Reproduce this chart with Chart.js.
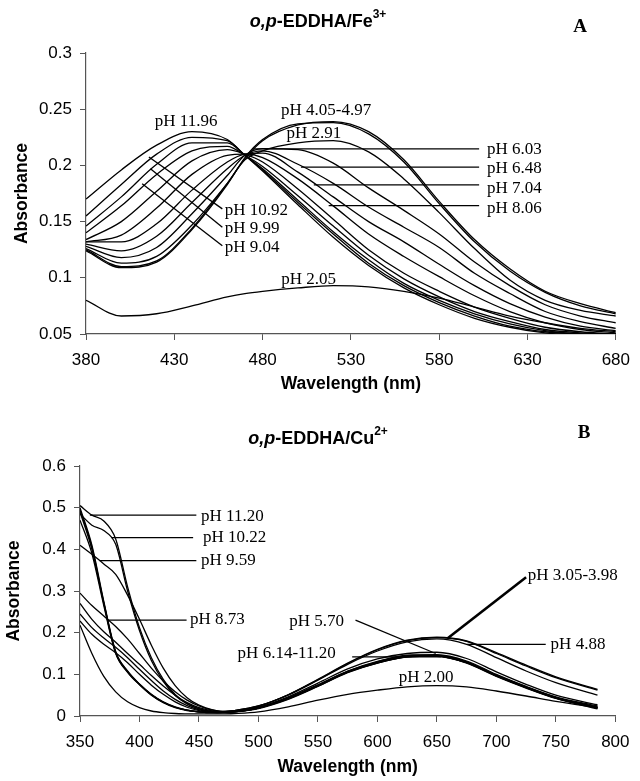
<!DOCTYPE html>
<html>
<head>
<meta charset="utf-8">
<script src="https://cdn.jsdelivr.net/npm/chart.js@4.4.1/dist/chart.umd.min.js"></script>
<style>
  html, body { margin: 0; padding: 0; background: #fff; }
  #wrap { position: relative; width: 640px; height: 781px; }
  #feChart { position: absolute; left: 0; top: 0; }
  #cuChart { position: absolute; left: 0; top: 395px; }
</style>
</head>
<body>
<div id="wrap">
  <canvas id="feChart" width="640" height="395" style="width:640px;height:395px"></canvas>
  <canvas id="cuChart" width="640" height="386" style="width:640px;height:386px"></canvas>
</div>
<script>
// ---- Panel A: o,p-EDDHA/Fe3+ ----
const feWavelength = [380, 400, 420, 440, 460, 470, 480, 500, 520, 540, 560, 580, 600, 620, 640, 660, 680];
const fe_pH11_96 = [.170, .196, .218, .230, .223, .209, .195, .165, .136, .111, .091, .076, .064, .056, .051, .049, .048];
const fe_pH10_92 = [.155, .183, .210, .225, .222, .209, .196, .167, .139, .113, .093, .078, .066, .057, .052, .050, .049];
const fe_pH9_99  = [.146, .172, .201, .220, .220, .209, .197, .169, .141, .116, .095, .080, .068, .059, .053, .050, .049];
const fe_pH9_04  = [.140, .164, .192, .213, .217, .209, .199, .173, .146, .120, .099, .083, .070, .061, .054, .051, .050];
const fe_pH8_5   = [.134, .150, .177, .204, .214, .210, .203, .179, .152, .125, .104, .088, .074, .064, .056, .052, .050];
const fe_pH8_06  = [.132, .138, .162, .192, .209, .210, .207, .188, .164, .139, .119, .101, .084, .070, .060, .054, .051];
const fe_pH7_04  = [.132, .132, .148, .178, .203, .210, .211, .194, .172, .150, .132, .112, .093, .077, .065, .057, .053];
const fe_pH6_48  = [.130, .124, .137, .167, .197, .209, .213, .201, .184, .163, .145, .127, .104, .086, .070, .061, .055];
const fe_pH6_03  = [.128, .118, .127, .157, .191, .209, .215, .214, .202, .180, .160, .139, .114, .093, .076, .066, .060];
const fe_pH2_91  = [.126, .113, .119, .147, .184, .205, .213, .220, .222, .212, .188, .158, .126, .098, .080, .071, .066];
const fe_pH4_05  = [.125, .110, .115, .144, .184, .206, .222, .236, .239, .230, .205, .168, .134, .108, .088, .077, .069];
const fe_pH4_97  = [.124, .109, .114, .143, .183, .207, .223, .237, .238, .228, .203, .166, .132, .106, .087, .075, .068];
const fe_pH2_05  = [.080, .066, .068, .075, .083, .086, .088, .091, .093, .092, .088, .082, .074, .066, .060, .055, .052];
const feCurves = [fe_pH11_96, fe_pH10_92, fe_pH9_99, fe_pH9_04, fe_pH8_5, fe_pH8_06, fe_pH7_04,
                  fe_pH6_48, fe_pH6_03, fe_pH2_91, fe_pH4_05, fe_pH4_97, fe_pH2_05];
const feXTicks = [380, 680, 50];
const feYTicks = [0.05, 0.3, 0.05];
// labels: text, wavelength, absorbance, alignment
const feNotes = [
  ['pH 11.96', 436.7, 0.2387, 'center'],
  ['pH 10.92', 458.5, 0.1600, 'left'],
  ['pH 9.99', 458.5, 0.1440, 'left'],
  ['pH 9.04', 458.5, 0.1270, 'left'],
  ['pH 4.05-4.97', 516, 0.2490, 'center'],
  ['pH 2.91', 509, 0.2280, 'center'],
  ['pH 6.03', 607, 0.2140, 'left'],
  ['pH 6.48', 607, 0.1970, 'left'],
  ['pH 7.04', 607, 0.1795, 'left'],
  ['pH 8.06', 607, 0.1615, 'left'],
  ['pH 2.05', 506, 0.0988, 'center']
];
const feLeaders = [
  [415.6, 0.2074, 457.2, 0.1613],
  [416.5, 0.1970, 457.2, 0.1449],
  [411.8, 0.1837, 457.2, 0.1286],
  [474.8, 0.2147, 602.6, 0.2147],
  [501.7, 0.1985, 602.6, 0.1985],
  [509.0, 0.1827, 602.6, 0.1827],
  [517.4, 0.1643, 602.6, 0.1643]
];

// ---- Panel B: o,p-EDDHA/Cu2+ ----
const cuWavelength = [350, 360, 370, 380, 390, 400, 410, 420, 430, 440, 450, 460, 470, 480, 500, 525, 550, 575, 600, 625, 650, 675, 700, 725, 750, 785];
const cu_pH11_20 = [.505, .482, .468, .425, .310, .212, .140, .088, .052, .030, .018, .011, .009, .010, .018, .040, .071, .104, .127, .142, .145, .130, .098, .070, .045, .022];
const cu_pH10_22 = [.485, .458, .445, .412, .300, .205, .133, .083, .049, .029, .017, .011, .009, .010, .019, .041, .072, .105, .128, .142, .144, .128, .096, .068, .043, .019];
const cu_pH9_59  = [.410, .388, .365, .340, .290, .232, .170, .115, .073, .044, .026, .016, .011, .011, .019, .042, .073, .106, .129, .143, .143, .127, .095, .067, .042, .017];
const cu_pH8_73  = [.295, .265, .240, .215, .185, .150, .115, .084, .058, .038, .024, .015, .011, .012, .020, .043, .074, .107, .130, .145, .146, .130, .097, .069, .044, .019];
const cu_pH7_5   = [.270, .232, .202, .177, .150, .124, .097, .072, .050, .032, .020, .013, .010, .012, .020, .044, .075, .108, .131, .146, .147, .132, .100, .071, .046, .024];
const cu_pH6_9   = [.245, .212, .187, .165, .140, .112, .085, .060, .040, .025, .015, .010, .008, .010, .019, .042, .073, .106, .128, .143, .145, .129, .097, .069, .044, .021];
const cu_pH6_14  = [.228, .196, .172, .152, .128, .100, .074, .052, .034, .021, .013, .009, .008, .010, .019, .042, .072, .105, .127, .142, .144, .128, .096, .068, .043, .020];
const cu_pH5_70  = [.470, .390, .265, .150, .105, .075, .050, .032, .020, .013, .010, .008, .009, .011, .021, .046, .079, .113, .137, .150, .153, .138, .106, .076, .050, .027];
const cu_pH4_88  = [.490, .400, .270, .152, .106, .076, .051, .033, .021, .014, .010, .008, .009, .012, .023, .050, .086, .124, .156, .178, .185, .172, .140, .108, .080, .050];
const cu_pH3_05  = [.500, .410, .275, .155, .108, .077, .052, .034, .022, .014, .010, .009, .010, .013, .024, .051, .088, .127, .160, .182, .189, .180, .152, .122, .094, .064];
const cu_pH3_98  = [.495, .405, .272, .153, .107, .076, .051, .033, .021, .014, .010, .009, .010, .013, .024, .051, .087, .126, .159, .181, .188, .179, .150, .120, .092, .062];
const cu_pH2_00  = [.218, .150, .095, .058, .034, .020, .012, .008, .006, .005, .005, .005, .005, .006, .010, .022, .038, .052, .062, .070, .073, .070, .060, .048, .035, .020];
const cuCurves = [cu_pH11_20, cu_pH10_22, cu_pH9_59, cu_pH8_73, cu_pH7_5, cu_pH6_9, cu_pH6_14,
                  cu_pH5_70, cu_pH4_88, cu_pH3_05, cu_pH3_98, cu_pH2_00];
const cuXTicks = [350, 800, 50];
const cuYTicks = [0, 0.6, 0.1];
const cuNotes = [
  ['pH 11.20', 451.7, 0.478, 'left'],
  ['pH 10.22', 453.4, 0.428, 'left'],
  ['pH 9.59', 451.7, 0.372, 'left'],
  ['pH 8.73', 442.4, 0.231, 'left'],
  ['pH 5.70', 549, 0.226, 'center'],
  ['pH 6.14-11.20', 523.7, 0.151, 'center'],
  ['pH 3.05-3.98', 726.3, 0.338, 'left'],
  ['pH 4.88', 745.6, 0.172, 'left'],
  ['pH 2.00', 640.9, 0.093, 'center']
];
const cuLeaders = [
  [358.3, 0.482, 447.8, 0.482],
  [376.2, 0.428, 445.1, 0.428],
  [366.5, 0.373, 447.8, 0.373],
  [373.4, 0.230, 439.6, 0.230],
  [581.6, 0.230, 649.0, 0.150],
  [578.8, 0.142, 653.3, 0.142],
  [658.8, 0.186, 725.0, 0.333],
  [675.3, 0.172, 741.5, 0.172]
];

Chart.defaults.font.family = '"Liberation Sans", Arial, sans-serif';
Chart.defaults.color = '#000';

const SANS = '"Liberation Sans", Arial, sans-serif';
const SERIF = '"Liberation Serif", "Times New Roman", serif';

function buildDatasets(wl, curves, leaders, thickLeader) {
  const sets = curves.map(c => ({
    data: wl.map((w, i) => ({ x: w, y: c[i] })),
    borderColor: '#000',
    borderWidth: 1.3,
    pointRadius: 0,
    fill: false,
    cubicInterpolationMode: 'monotone'
  }));
  leaders.forEach((l, i) => {
    sets.push({
      data: [{ x: l[0], y: l[1] }, { x: l[2], y: l[3] }],
      borderColor: '#000',
      borderWidth: i === thickLeader ? 2.6 : 1.3,
      pointRadius: 0,
      fill: false,
      tension: 0
    });
  });
  return sets;
}

function drawHeading(ctx, cx, cy, metal, charge, letter, lx, ly) {
  const parts = [
    { t: 'o,p', f: 'italic bold 18px ' + SANS, dy: 0 },
    { t: '-EDDHA/' + metal, f: 'bold 18px ' + SANS, dy: 0 },
    { t: charge, f: 'bold 12px ' + SANS, dy: -7 }
  ];
  ctx.save();
  ctx.fillStyle = '#000';
  ctx.textBaseline = 'middle';
  ctx.textAlign = 'left';
  let total = 0;
  parts.forEach(p => { ctx.font = p.f; p.w = ctx.measureText(p.t).width; total += p.w; });
  let x = cx - total / 2;
  parts.forEach(p => { ctx.font = p.f; ctx.fillText(p.t, x, cy + p.dy); x += p.w; });
  ctx.font = 'bold 19px ' + SERIF;
  ctx.textAlign = 'center';
  ctx.fillText(letter, lx, ly);
  ctx.restore();
}

const tickText = v => String(Math.round(v * 100) / 100);

function makeChart(id, cfg) {
  const notesPlugin = {
    id: 'notes',
    afterDatasetsDraw(chart) {
      const { ctx, scales: { x, y } } = chart;
      ctx.save();
      ctx.fillStyle = '#000';
      ctx.font = '17px ' + SERIF;
      ctx.textBaseline = 'middle';
      cfg.notes.forEach(n => {
        ctx.textAlign = n[3];
        ctx.fillText(n[0], x.getPixelForValue(n[1]), y.getPixelForValue(n[2]));
      });
      ctx.restore();
      drawHeading(ctx, 318, cfg.titleY, cfg.metal, cfg.charge, cfg.letter, cfg.letterX, cfg.letterY);
    }
  };
  return new Chart(document.getElementById(id), {
    type: 'line',
    data: { datasets: buildDatasets(cfg.wl, cfg.curves, cfg.leaders, cfg.thickLeader) },
    options: {
      responsive: false,
      animation: false,
      devicePixelRatio: 1,
      layout: { padding: { top: cfg.top, right: cfg.right, left: 0, bottom: 0 } },
      plugins: { legend: { display: false }, tooltip: { enabled: false }, title: { display: false } },
      scales: {
        x: {
          type: 'linear',
          min: cfg.xTicks[0], max: cfg.xTicks[1],
          ticks: { stepSize: cfg.xTicks[2], font: { size: 17 }, color: '#000', padding: cfg.xPad, maxRotation: 0, callback: tickText },
          grid: { drawOnChartArea: false, drawTicks: true, tickLength: 6, color: '#555' },
          border: { color: '#555', width: 1.2 },
          title: { display: true, text: 'Wavelength (nm)', font: { size: 17.5, weight: 'bold' }, color: '#000', padding: { top: 0, bottom: cfg.xTitlePad } },
          afterFit(s) { s.height = cfg.xHeight; }
        },
        y: {
          min: cfg.yTicks[0], max: cfg.yTicks[1],
          ticks: { stepSize: cfg.yTicks[2], font: { size: 17 }, color: '#000', padding: 8, callback: tickText },
          grid: { drawOnChartArea: false, drawTicks: true, tickLength: 6, color: '#555' },
          border: { color: '#555', width: 1.2 },
          title: { display: true, text: 'Absorbance', font: { size: 17.5, weight: 'bold' }, color: '#000', padding: { top: cfg.yTitlePad, bottom: 0 } },
          afterFit(s) { s.width = cfg.yWidth; }
        }
      }
    },
    plugins: [notesPlugin]
  });
}

makeChart('feChart', {
  wl: feWavelength, curves: feCurves, leaders: feLeaders, notes: feNotes, thickLeader: -1,
  xTicks: feXTicks, yTicks: feYTicks,
  top: 53, right: 14, xHeight: 61, yWidth: 86, xPad: 10, xTitlePad: 0, yTitlePad: 11.5,
  metal: 'Fe', charge: '3+', letter: 'A', titleY: 22, letterX: 580, letterY: 27
});

makeChart('cuChart', {
  wl: cuWavelength, curves: cuCurves, leaders: cuLeaders, notes: cuNotes, thickLeader: 6,
  xTicks: cuXTicks, yTicks: cuYTicks,
  top: 71, right: 16, xHeight: 65, yWidth: 80, xPad: 10.5, xTitlePad: 3, yTitlePad: 3.5,
  metal: 'Cu', charge: '2+', letter: 'B', titleY: 44, letterX: 584, letterY: 38
});
</script>
</body>
</html>
